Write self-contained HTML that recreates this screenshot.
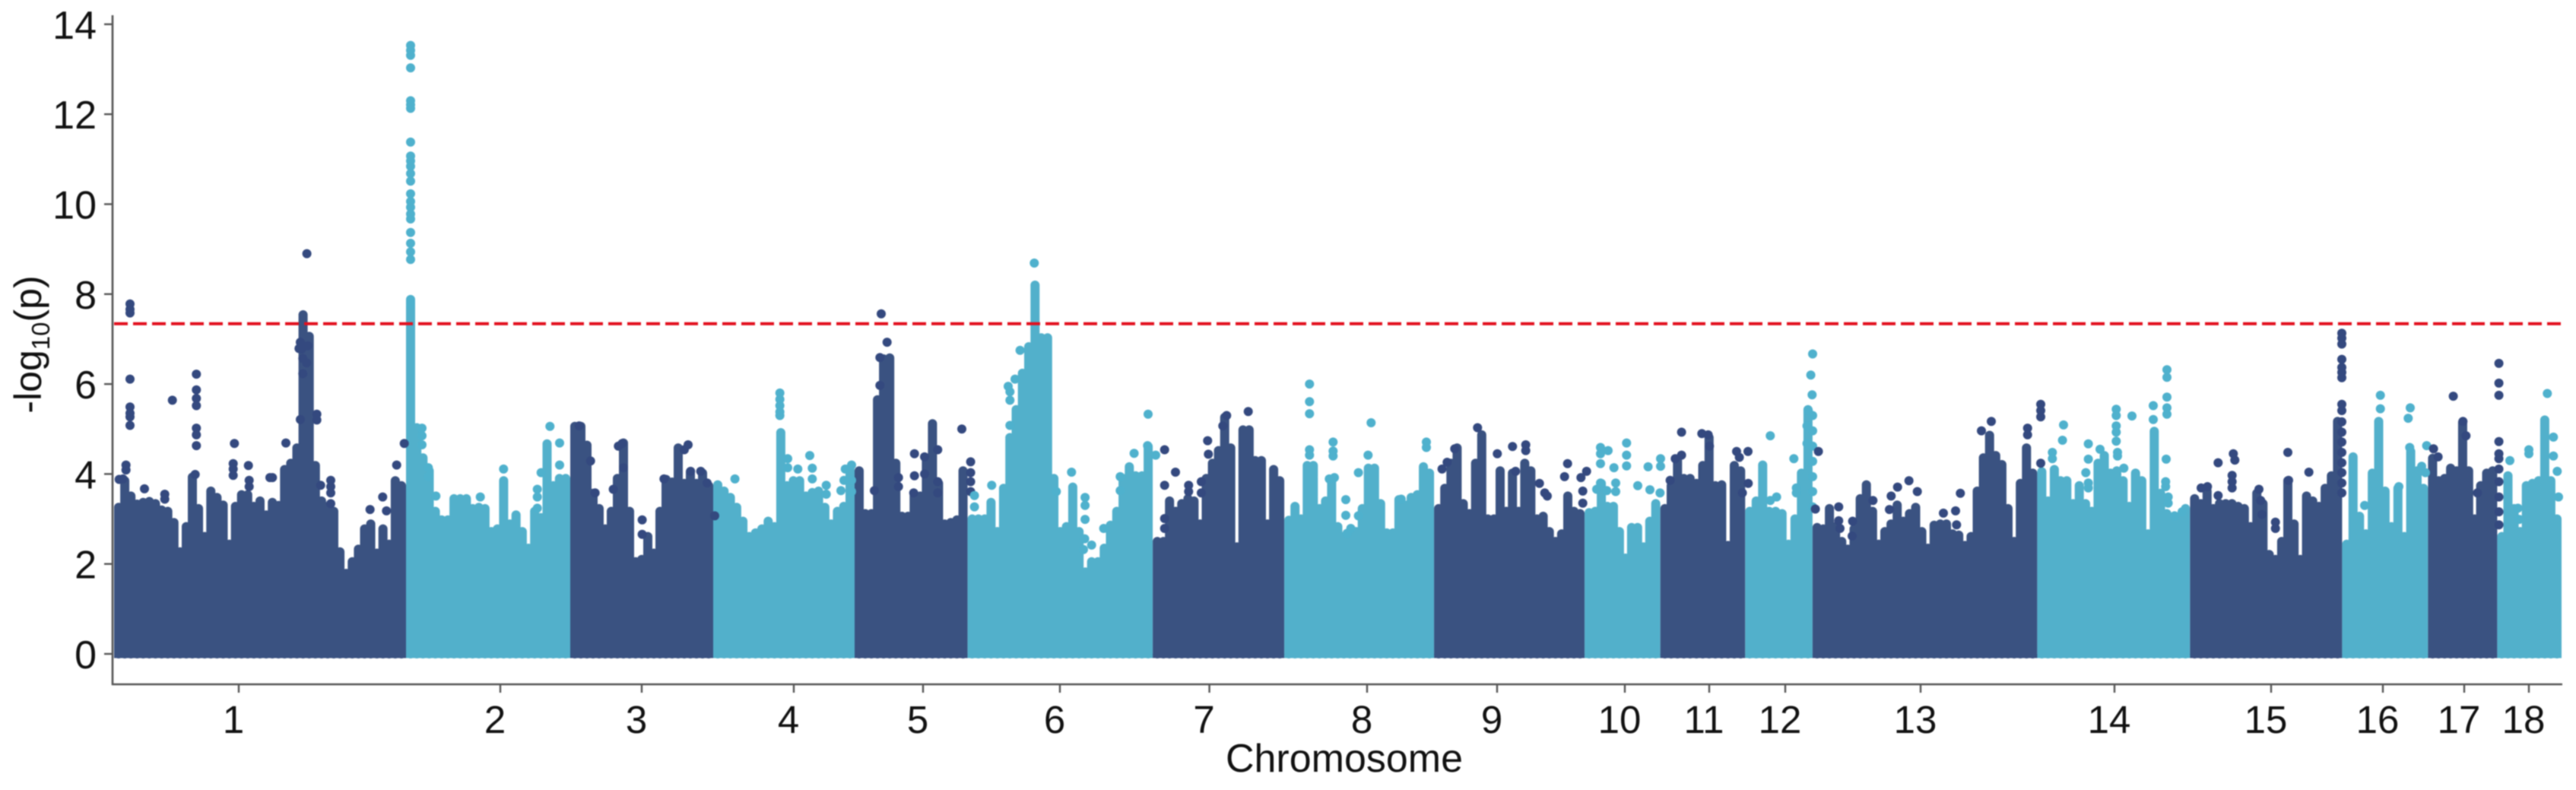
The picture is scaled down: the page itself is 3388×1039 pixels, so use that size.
<!DOCTYPE html>
<html lang="en">
<head>
<meta charset="utf-8">
<title>Manhattan plot</title>
<style>
html,body{margin:0;padding:0;background:#fff;overflow:hidden;}
svg{display:block;filter:blur(0.7px);}
text{font-family:"Liberation Sans",sans-serif;fill:#111;}
</style>
</head>
<body>
<svg id="chart" xmlns="http://www.w3.org/2000/svg" width="3388" height="1039" viewBox="0 0 3388 1039">
  <rect x="0" y="0" width="3388" height="1039" fill="#ffffff"/>
  <g id="marks"></g>
  <g id="axes"></g>
  <text transform="translate(54,453) rotate(-90)" text-anchor="middle" font-size="50">-log<tspan dy="11" font-size="33">10</tspan><tspan dy="-11">(p)</tspan></text>
  <text x="1768" y="1015" text-anchor="middle" font-size="52">Chromosome</text>
</svg>
<script>
// Chromosome labels and lengths (Mb)
const chromLabels = ['1','2','3','4','5','6','7','8','9','10','11','12','13','14','15','16','17','18'];
const chromLengths = [268.8,151.2,131.6,130.2,104,170.5,121.1,137.9,138.6,69.7,78.1,62,206.9,140.7,140,79.1,63.7,59.2];
// Tick positions, cumulative Mb along the genome
const tickPositions = [114.8,355.6,485.8,625.8,744.8,870.8,1008.4,1153.6,1273.3,1390.9,1468.6,1538.6,1663.2,1841.7,1985.9,2088.8,2163.7,2223.2];
const yTickValues = [0,2,4,6,8,10,12,14];
const thresholdValue = 7.34;

// Upper envelope of the dense SNP cloud: evenly spaced along each chromosome, -log10(p)
const chr1Envelope = [3.26,3.85,3.51,3.33,3.37,3.39,3.34,3.20,3.17,2.92,2.27,2.83,3.93,3.23,2.61,3.62,3.48,3.31,2.44,3.28,3.54,3.54,3.28,3.40,3.09,3.37,3.30,4.10,4.24,4.58,7.54,7.06,4.19,3.40,3.28,3.17,2.27,1.79,2.05,2.33,2.78,2.89,2.24,2.78,2.44,3.85,3.74];
const chr2Envelope = [7.85,5.03,4.36,4.07,3.17,2.98,2.98,3.45,3.45,3.45,3.23,3.26,3.23,2.72,2.78,3.85,2.89,3.09,2.72,2.35,3.17,3.03,4.67,3.74,3.90,3.90];
const chr3Envelope = [5.06,5.06,4.64,3.57,3.23,2.78,3.17,3.90,4.69,3.17,2.05,2.10,2.61,2.24,3.17,3.88,3.82,4.58,3.79,4.05,3.79,4.02,3.74];
const chr4Envelope = [3.76,3.62,3.48,3.26,2.95,2.61,2.69,2.78,2.95,2.83,4.92,3.74,3.85,3.85,3.51,3.59,3.62,3.26,2.89,3.17,3.28,4.13];
const chr5Envelope = [4.07,3.12,3.12,5.65,6.56,6.58,4.24,3.06,3.06,3.54,3.51,4.30,5.12,3.79,2.89,2.92,2.98,4.07];
const chr6Envelope = [3.0,3.0,3.0,3.37,2.72,3.68,4.81,5.43,6.24,6.83,8.2,7.03,7.03,3.90,2.72,2.83,3.71,2.72,1.82,2.05,2.05,2.35,2.86,3.17,3.90,4.16,3.96,3.96,4.61];
const chr7Envelope = [2.50,2.50,3.40,3.17,3.34,3.45,3.40,2.89,3.90,4.24,4.52,5.26,4.58,2.38,4.98,4.98,4.30,4.30,2.89,4.10,3.85];
const chr8Envelope = [2.97,3.28,3.0,4.19,4.19,3.23,3.40,3.85,2.83,2.61,2.72,2.72,3.23,4.13,4.13,3.34,2.69,2.69,3.43,3.31,3.48,3.54,4.16,4.02];
const chr9Envelope = [3.23,3.68,4.24,4.58,3.34,3.12,4.24,4.87,3.0,3.0,4.07,3.17,4.02,3.17,4.24,4.07,3.0,3.06,2.72,2.50,2.67,3.51,3.17,3.12];
const chr10Envelope = [3.14,3.17,3.79,3.28,3.28,2.72,2.13,2.81,2.81,2.38,2.95,3.34];
const chr11Envelope = [3.23,3.74,4.30,3.90,3.90,3.79,4.19,4.81,3.74,3.76,2.41,4.19,4.07];
const chr12Envelope = [3.17,3.40,4.20,3.17,3.17,3.12,2.44,3.0,4.02,5.43];
const chr13Envelope = [2.81,2.78,3.23,2.83,2.50,2.33,2.78,3.45,3.76,3.17,2.44,2.72,2.89,3.31,2.95,3.12,3.26,2.72,2.35,2.86,2.89,2.89,2.67,2.64,2.41,2.61,3.62,4.36,4.86,4.41,4.21,3.23,2.50,3.79,4.58,4.02];
const chr14Envelope = [4.05,3.40,4.10,3.85,3.85,3.34,3.74,3.34,3.17,4.24,4.41,4.02,4.07,3.85,3.28,4.02,3.85,2.67,4.95,3.57,3.12,2.95,3.0,3.23];
const chr15Envelope = [3.45,3.34,3.62,3.23,3.34,3.34,3.34,3.28,3.23,2.83,3.57,3.34,2.21,2.10,2.50,3.85,2.89,2.10,3.51,3.40,3.28,3.68,3.96,5.17];
const chr16Envelope = [2.44,4.38,3.06,2.67,4.02,5.17,3.62,2.83,3.68,2.61,4.50,4.07,3.68];
const chr17Envelope = [4.35,3.85,3.90,4.13,4.07,5.15,4.07,3.0,3.74,4.02,4.07];
const chr18Envelope = [2.61,3.96,3.23,2.72,3.74,3.79,3.85,5.2,3.85,3.0];

// Individually visible SNPs: [cumulative genome position in Mb, -log10(p)]
const chr1Snps = [[14.7,7.78],[14.7,7.66],[14.7,7.58],[14.7,6.11],[14.7,5.49],[14.7,5.35],[14.7,5.27],[14.7,5.08],[11,4.2],[11,4.09],[53.7,5.64],[75.8,6.22],[75.8,5.87],[75.8,5.68],[75.8,5.52],[75.8,5.02],[75.8,4.87],[75.8,4.63],[110.8,4.68],[109.7,4.23],[109.7,4.11],[109.7,3.97],[123.7,4.19],[124.4,3.86],[124.4,3.72],[145.8,3.92],[143.5,3.92],[158.2,4.69],[28,3.67],[46.7,3.55],[46.7,3.44],[74.7,3.99],[199.5,3.86],[199.5,3.72],[199.5,3.58],[199.5,3.34],[186.7,5.33],[186.7,5.2],[171.5,6.93],[172.7,6.78],[170.3,6.79],[178.5,6.85],[173.8,6.57],[177.3,6.47],[173.8,6.23],[171.5,5.21],[260.2,4.2],[247.3,3.49],[235.7,3.21],[250.8,3.18],[190.2,3.75],[267.2,4.68],[8.2,3.89],[4.7,3.88],[177.5,8.9]];
const chr2Snps = [[273,13.53],[273,13.42],[273,13.31],[273,13.03],[273,12.3],[273,12.21],[273,12.13],[273,11.38],[273,11.07],[273,10.96],[273,10.84],[273,10.68],[273,10.51],[273,10.23],[273,10.06],[273,9.93],[273,9.78],[273,9.67],[273,9.37],[273,9.13],[273,8.94],[273,8.77],[273,7.88],[273,7.76],[283.5,5.02],[283.5,4.85],[283.5,4.65],[289.3,4.14],[289.3,3.94],[296.3,3.51],[337.2,3.49],[358.6,4.11],[401.3,5.06],[410.2,4.69],[410.2,4.2],[393.2,4.03],[389.7,3.66],[389.7,3.49],[389.7,3.24]];
const chr3Snps = [[428.2,5.07],[438.7,4.29],[442.9,3.58],[528.5,4.65],[525,4.54],[486.2,2.98],[486.2,2.66],[467.8,4.68],[464.3,4.62],[469,4.14],[459.6,3.66],[506.3,3.89],[530.8,4.06],[540.1,4.06],[546,3.8],[553,3.07]];
const chr4Snps = [[571.6,3.89],[613,5.8],[613,5.66],[613,5.52],[613,5.38],[613,5.3],[620.2,4.34],[620.2,4.14],[629.5,4.11],[640.5,4.41],[642.8,4.13],[642.8,3.89],[655.7,3.75],[655.7,3.55],[669.2,3.63],[673.2,4.11],[679,4.2],[672,3.86],[679,3.86],[679,3.61]];
const chr5Snps = [[706.3,7.56],[711.7,6.93],[705.1,6.59],[705.1,5.97],[700,3.63],[736.9,4.45],[736.9,3.96],[780.5,5.0],[758.3,4.54],[746.2,4.38],[746.2,4.0],[758.3,3.83],[758.3,3.58],[722.2,3.92],[722.2,3.72],[788.6,4.27],[788.6,4.03],[788.6,3.83],[788.6,3.61],[736.2,3.58]];
const chr6Snps = [[847.2,8.69],[834.1,6.75],[823.2,5.95],[824.8,5.83],[829.5,6.11],[824.8,5.64],[824.8,5.08],[792.1,3.52],[792.1,3.27],[808,3.75],[881.5,4.04],[894,3.48],[894,3.3],[894,2.99],[893.6,2.56],[900,2.42],[911.1,2.79],[892.5,2.32],[952,5.33],[951.5,4.63],[939.1,4.46],[959,4.42],[926.3,3.94],[926.3,3.63],[867.5,3.61]];
const chr7Snps = [[967.2,4.54],[967.2,3.75],[967.2,3.01],[967.2,2.79],[977.2,4.04],[989.3,3.75],[989.3,3.61],[1006.8,4.74],[1007.5,4.44],[1001,3.83],[1001,3.58],[1044.2,5.39],[1024.3,5.3],[1020.8,5.07]];
const chr8Snps = [[1100.6,6.0],[1100.6,5.61],[1100.6,5.34],[1100.6,4.54],[1100.6,4.42],[1122.3,4.71],[1122.3,4.51],[1122.3,4.4],[1118.8,3.89],[1123.5,3.92],[1134,3.43],[1134,3.08],[1138.6,2.79],[1135.1,2.68],[1157.3,5.14],[1154.5,4.42],[1145.6,4.03],[1208.2,4.71],[1208.2,4.59],[1145.6,3.07],[1185,3.44]];
const chr9Snps = [[1255.3,5.03],[1273.5,4.45],[1287.5,4.61],[1222.6,4.11],[1227.3,4.26],[1234.3,4.56],[1290.3,4.06],[1299.7,4.65],[1299.7,4.52],[1312.3,3.79],[1317.2,3.58],[1319.5,3.51],[1338.2,4.23],[1335.4,3.94],[1355.7,4.06],[1350.5,3.92],[1352.2,3.62],[1352.2,3.35]];
const chr10Snps = [[1368.5,4.59],[1368.5,4.45],[1368.5,4.23],[1375.5,4.52],[1380.9,4.14],[1392.5,4.69],[1392.5,4.42],[1392.5,4.18],[1412.3,4.16],[1423.8,4.34],[1423.8,4.17],[1402.8,3.74],[1414,3.65],[1423.3,3.58],[1368.5,3.8],[1365,3.66],[1382.5,3.8],[1382.5,3.61],[1374.3,3.63]];
const chr11Snps = [[1443.1,4.93],[1443.1,4.42],[1437.3,4.34],[1432.6,3.86],[1461.8,4.9],[1467.6,4.87],[1468.8,4.62],[1493.8,4.5],[1496.3,4.37],[1504.3,4.5],[1504.5,3.79],[1499.1,3.58]];
const chr12Snps = [[1524.8,4.85],[1546.5,4.34],[1548.8,3.69],[1548.8,3.58],[1530.6,3.49],[1524.8,3.41],[1563.8,6.67],[1562.1,6.2],[1563.3,5.76],[1559.8,5.41],[1558.6,5.07],[1558.6,4.68],[1563.8,5.3],[1563.8,4.96],[1563.8,4.62],[1563.8,4.28],[1563.8,3.94],[1563.8,3.61],[1563.8,3.27]];
const chr13Snps = [[1569.1,4.5],[1566.3,3.22],[1587.8,3.27],[1587.8,2.96],[1589,2.79],[1600.6,2.95],[1600.2,2.62],[1728.3,5.17],[1719.2,4.96],[1699.8,3.57],[1695.4,3.18],[1696.3,2.87],[1684.2,3.13],[1660.2,3.61],[1652.5,3.85],[1642,3.71],[1761.7,5.02],[1761.7,4.87],[1773.8,5.55],[1773.8,5.41],[1773.8,5.27],[1773.8,4.24],[1636.1,3.51],[1634.5,3.21],[1619.3,3.41]];
const chr14Snps = [[1794.8,5.09],[1793.8,4.75],[1784.5,4.48],[1784.5,4.34],[1817.6,4.67],[1817.6,4.33],[1815.3,4.03],[1817.6,3.8],[1817.6,3.69],[1843.3,5.44],[1843.3,5.3],[1843.3,5.07],[1843.3,4.93],[1843.3,4.73],[1844.5,4.48],[1844.5,4.4],[1850.3,4.13],[1857.8,5.29],[1877.4,5.52],[1877.4,5.21],[1890,6.32],[1890,6.15],[1890,5.71],[1890,5.47],[1890,5.33],[1889.3,4.33],[1888.8,3.83],[1888.8,3.72],[1891.1,3.49],[1891.1,3.35],[1828.4,4.55],[1897,3.07],[1904,3.16]];
const chr15Snps = [[1921.5,3.69],[1927.3,3.72],[1937.1,4.25],[1937.1,3.52],[1951.1,4.45],[1952.5,4.31],[1950,3.97],[1950,3.83],[1950,3.69],[1974.7,3.66],[1976.3,3.41],[1977.5,3.1],[2001.3,4.48],[2020.7,4.04],[1989.9,2.93],[1989.9,2.79],[2002,3.86],[2051,7.13],[2051,7.02],[2051,6.89],[2051,6.55],[2051,6.37],[2051,6.26],[2051,6.14],[2051,5.55],[2051,5.41],[2051,5.16],[2051,4.93],[2051,4.71],[2051,4.48],[2051,4.25],[2051,4.03],[2051,3.8],[2051,3.58]];
const chr16Snps = [[2086.5,5.75],[2086.5,5.45],[2114,5.47],[2112.1,5.24],[2113.5,4.59],[2129.1,4.63],[2072,3.3],[2124.5,4.17],[2128,4.03],[2103.5,3.72]];
const chr17Snps = [[2195.6,6.46],[2195.6,6.02],[2195.6,5.75],[2195.6,4.72],[2195.6,4.45],[2195.6,4.34],[2153.6,5.73],[2175.8,3.58],[2135.4,4.56],[2139.6,4.38],[2195.6,4.11],[2195.6,3.83],[2195.6,3.49],[2195.6,3.16],[2195.6,2.87],[2162.5,5.17],[2165.3,4.85]];
const chr18Snps = [[2240.2,5.79],[2205.7,4.3],[2223.2,4.54],[2223.2,4.45],[2245.8,4.82],[2245.8,4.4],[2249.3,4.06],[2213.1,3.24],[2214.3,2.99],[2250.5,3.49]];

const envelopes = [chr1Envelope,chr2Envelope,chr3Envelope,chr4Envelope,chr5Envelope,chr6Envelope,chr7Envelope,chr8Envelope,chr9Envelope,chr10Envelope,chr11Envelope,chr12Envelope,chr13Envelope,chr14Envelope,chr15Envelope,chr16Envelope,chr17Envelope,chr18Envelope];
const snpSets = [chr1Snps,chr2Snps,chr3Snps,chr4Snps,chr5Snps,chr6Snps,chr7Snps,chr8Snps,chr9Snps,chr10Snps,chr11Snps,chr12Snps,chr13Snps,chr14Snps,chr15Snps,chr16Snps,chr17Snps,chr18Snps];

const NS = 'http://www.w3.org/2000/svg';
const DARK = '#3a5281';
const LIGHT = '#52b0cb';
const PLOT_LEFT = 150;
const PX_PER_MB = 1 / 0.7;
const DOT_RADIUS = 6;
const xScale = function (mb) { return PLOT_LEFT + mb * PX_PER_MB; };
const yScale = function (v) { return 860 - v * 59.15; };

const marks = document.getElementById('marks');
const axes = document.getElementById('axes');

function svgEl(tag, attrs, parent) {
  const el = document.createElementNS(NS, tag);
  Object.keys(attrs).forEach(function (k) { el.setAttribute(k, attrs[k]); });
  parent.appendChild(el);
  return el;
}

// Chromosome clouds
let cumulative = 0;
const chromStarts = [];
chromLengths.forEach(function (len) {
  chromStarts.push(cumulative);
  cumulative += len;
});

envelopes.forEach(function (values, c) {
  const color = c % 2 === 0 ? DARK : LIGHT;
  const x0 = xScale(chromStarts[c]);
  const x1 = xScale(chromStarts[c] + chromLengths[c]);
  const label = chromLabels[c];

  const base = svgEl('rect', {x: x0.toFixed(1), y: yScale(0), width: (x1 - x0).toFixed(1), height: 5.5, fill: color}, marks);
  
  

  const inner0 = x0 + DOT_RADIUS;
  const innerW = x1 - x0 - 2 * DOT_RADIUS;
  let d = '';
  values.forEach(function (v, i) {
    const x = inner0 + innerW * i / (values.length - 1);
    d += 'M' + x.toFixed(1) + ' ' + yScale(0) + 'V' + yScale(v).toFixed(1);
  });
  const cloud = svgEl('path', {d: d, stroke: color, 'stroke-width': 2 * DOT_RADIUS, 'stroke-linecap': 'round', fill: 'none'}, marks);
  
  
});

// Individually visible SNP points (drawn after all clouds)
snpSets.forEach(function (points, c) {
  const color = c % 2 === 0 ? '#34497f' : '#4fb1cd';
  const label = chromLabels[c];
  points.forEach(function (p) {
    const dot = svgEl('circle', {cx: xScale(p[0]).toFixed(1), cy: yScale(p[1]).toFixed(1), r: DOT_RADIUS, fill: color}, marks);
    
    
  });
});

// Significance threshold
const threshold = svgEl('line', {x1: 150, x2: 3368, y1: yScale(thresholdValue).toFixed(1), y2: yScale(thresholdValue).toFixed(1), stroke: '#e2101e', 'stroke-width': 4, 'stroke-dasharray': '18 7'}, axes);



// Axis lines
const yLine = svgEl('line', {x1: 148, x2: 148, y1: 20, y2: 901, stroke: '#555', 'stroke-width': 2.6}, axes);


const xLine = svgEl('line', {x1: 147, x2: 3370, y1: 900, y2: 900, stroke: '#555', 'stroke-width': 2.6}, axes);



// Y ticks
yTickValues.forEach(function (v) {
  const y = yScale(v);
  const tick = svgEl('line', {x1: 137, x2: 148, y1: y, y2: y, stroke: '#555', 'stroke-width': 2.4}, axes);
  
  
  const txt = svgEl('text', {x: 127, y: y + 19, 'text-anchor': 'end', 'font-size': 52}, axes);
  txt.textContent = String(v);
  
  
});

// X ticks
tickPositions.forEach(function (mb, i) {
  const x = xScale(mb);
  const tick = svgEl('line', {x1: x.toFixed(1), x2: x.toFixed(1), y1: 900, y2: 911, stroke: '#555', 'stroke-width': 2.4}, axes);
  
  
  const txt = svgEl('text', {x: (x - 7).toFixed(1), y: 964, 'text-anchor': 'middle', 'font-size': 51}, axes);
  txt.textContent = chromLabels[i];
  
  
});
</script>
</body>
</html>
